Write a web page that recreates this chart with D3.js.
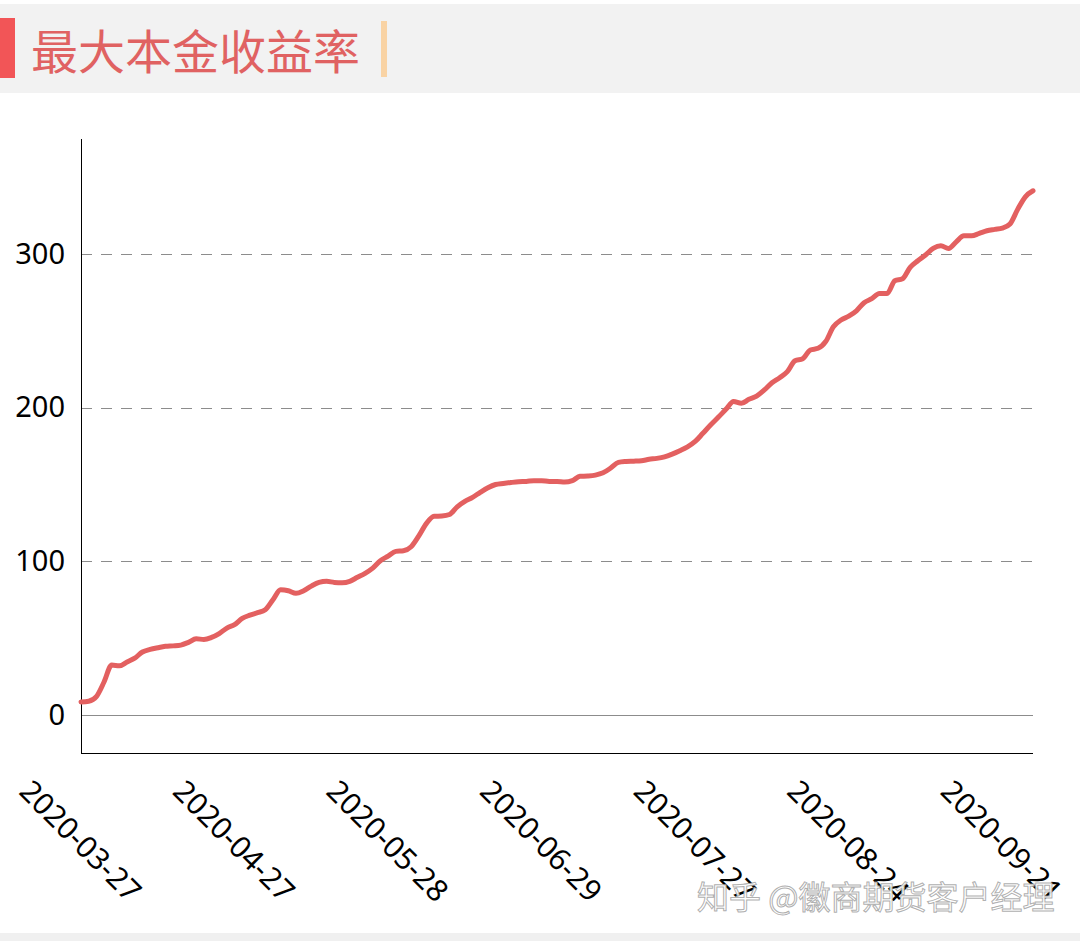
<!DOCTYPE html>
<html>
<head>
<meta charset="utf-8">
<script src="https://cdn.jsdelivr.net/npm/d3@7"></script>
<style>
  html, body { margin: 0; padding: 0; background: #fff; }
  svg { display: block; }
</style>
</head>
<body>
<svg id="chart" width="1080" height="941"></svg>
<script>
const titleText = "最大本金收益率";
const watermarkText = "知乎 @徽商期货客户经理";

const dates = [
  "2020-03-27","2020-03-30","2020-03-31",
  "2020-04-01","2020-04-02","2020-04-03","2020-04-07","2020-04-08","2020-04-09","2020-04-10",
  "2020-04-13","2020-04-14","2020-04-15","2020-04-16","2020-04-17","2020-04-20","2020-04-21",
  "2020-04-22","2020-04-23","2020-04-24","2020-04-27","2020-04-28","2020-04-29","2020-04-30",
  "2020-05-06","2020-05-07","2020-05-08","2020-05-11","2020-05-12","2020-05-13","2020-05-14",
  "2020-05-15","2020-05-18","2020-05-19","2020-05-20","2020-05-21","2020-05-22","2020-05-25",
  "2020-05-26","2020-05-27","2020-05-28","2020-05-29",
  "2020-06-01","2020-06-02","2020-06-03","2020-06-04","2020-06-05","2020-06-08","2020-06-09",
  "2020-06-10","2020-06-11","2020-06-12","2020-06-15","2020-06-16","2020-06-17","2020-06-18",
  "2020-06-19","2020-06-22","2020-06-23","2020-06-24","2020-06-29","2020-06-30",
  "2020-07-01","2020-07-02","2020-07-03","2020-07-06","2020-07-07","2020-07-08","2020-07-09",
  "2020-07-10","2020-07-13","2020-07-14","2020-07-15","2020-07-16","2020-07-17","2020-07-20",
  "2020-07-21","2020-07-22","2020-07-23","2020-07-24","2020-07-27","2020-07-28","2020-07-29",
  "2020-07-30","2020-07-31",
  "2020-08-03","2020-08-04","2020-08-05","2020-08-06","2020-08-07","2020-08-10","2020-08-11",
  "2020-08-12","2020-08-13","2020-08-14","2020-08-17","2020-08-18","2020-08-19","2020-08-20",
  "2020-08-21","2020-08-24","2020-08-25","2020-08-26","2020-08-27","2020-08-28","2020-08-31",
  "2020-09-01","2020-09-02","2020-09-03","2020-09-04","2020-09-07","2020-09-08","2020-09-09",
  "2020-09-10","2020-09-11","2020-09-14","2020-09-15","2020-09-16","2020-09-17","2020-09-18",
  "2020-09-21","2020-09-22","2020-09-23","2020-09-24","2020-09-25"
];

const returnRate = [
  8.5, 9, 12, 21.5, 32.5, 32, 34.5, 37, 41, 42.7,
  43.8, 44.7, 45, 45.5, 47.3, 49.6, 49.2, 50.5, 53, 56.6,
  58.8, 62.9, 65, 66.6, 68.5, 75, 81.5, 80.9, 79.2, 80.9,
  83.9, 86.3, 87, 86.3, 86.1, 87, 89.6, 92.2, 95.6, 100.4,
  103.4, 106.5, 106.9, 109.5, 116.5, 124.7, 129.3, 129.5, 130.5, 135.5,
  139, 141.6, 144.9, 147.9, 150, 150.7, 151.3, 151.8, 152, 152.5,
  152.5, 152, 152, 151.6, 152.5, 155.3, 155.5, 156.1, 157.6, 160.7,
  164.4, 165, 165.2, 165.5, 166.4, 167, 168, 169.8, 172, 174.5,
  178, 183.3, 188.7, 193.7, 198.9, 204, 202.8, 205.4, 207.5, 211.5,
  216.2, 219.5, 223.4, 230.5, 231.8, 237.5, 238.6, 243, 252.6, 257,
  259.5, 263, 268.3, 270.9, 274.3, 274.3, 282.6, 283.9, 291.3, 295.6,
  299.3, 303.6, 305.3, 303.6, 307.9, 311.8, 311.8, 313.4, 315.1, 316,
  316.8, 319.5, 329, 337.2, 341.1
];

const yTicks = [0, 100, 200, 300];
const yDomain = [-24.7, 374.8];
const xLabelEvery = 20;

const svg = d3.select("#chart");
const W = 1080, H = 941;
const plot = { left: 81, right: 1033, top: 139, bottom: 753 };
const labelFont = "'Noto Sans', 'Open Sans', sans-serif";

// header band
svg.append("rect").attr("x", 0).attr("y", 4).attr("width", W).attr("height", 89).attr("fill", "#f2f2f2");
svg.append("rect").attr("x", 0).attr("y", 18).attr("width", 15).attr("height", 60).attr("fill", "#f25557");
svg.append("text").attr("x", 31).attr("y", 69)
  .attr("font-family", "'Noto Sans CJK SC', sans-serif").attr("font-size", 47)
  .attr("fill", "#e06262").text(titleText);
svg.append("rect").attr("x", 381).attr("y", 21).attr("width", 6).attr("height", 56).attr("fill", "#f9d3a4");

// bottom band
svg.append("rect").attr("x", 0).attr("y", 933).attr("width", W).attr("height", 8).attr("fill", "#f0f0f0");

const x = d3.scalePoint().domain(dates).range([plot.left, plot.right]);
const y = d3.scaleLinear().domain(yDomain).range([plot.bottom, plot.top]);

// grid lines
const g = svg.append("g");
g.selectAll("line.grid").data(yTicks.filter(d => d !== 0)).join("line")
  .attr("class", "grid")
  .attr("x1", plot.left).attr("x2", plot.right)
  .attr("y1", d => Math.round(y(d)) + 0.5).attr("y2", d => Math.round(y(d)) + 0.5)
  .attr("stroke", "#8c8c8c").attr("stroke-width", 1).attr("stroke-dasharray", "11,9");
g.append("line")
  .attr("x1", plot.left).attr("x2", plot.right)
  .attr("y1", Math.round(y(0)) + 0.5).attr("y2", Math.round(y(0)) + 0.5)
  .attr("stroke", "#8c8c8c").attr("stroke-width", 1);

// y axis
const yAxis = d3.axisLeft(y).tickValues(yTicks).tickSize(0).tickPadding(16);
const yg = svg.append("g").attr("transform", `translate(${plot.left},0)`).call(yAxis);
yg.select(".domain").remove();
yg.selectAll("text").attr("font-family", labelFont).attr("font-size", 29).attr("fill", "#000");

svg.append("line").attr("x1", plot.left + 0.5).attr("x2", plot.left + 0.5)
  .attr("y1", plot.top).attr("y2", plot.bottom).attr("stroke", "#000").attr("stroke-width", 1);
svg.append("line").attr("x1", plot.left).attr("x2", plot.right)
  .attr("y1", plot.bottom + 0.5).attr("y2", plot.bottom + 0.5).attr("stroke", "#000").attr("stroke-width", 1);

// x axis labels
const xTickVals = dates.filter((d, i) => i % xLabelEvery === 0);
const xAxis = d3.axisBottom(x).tickValues(xTickVals).tickSize(0).tickPadding(0);
const xg = svg.append("g").attr("transform", `translate(0,${plot.bottom})`).call(xAxis);
xg.select(".domain").remove();
xg.selectAll(".tick text")
  .attr("font-family", labelFont).attr("font-size", 30).attr("fill", "#000")
  .attr("text-anchor", "middle").attr("dy", "0.35em")
  .attr("transform", "translate(-1,88) rotate(45)")
  .attr("y", 0);

// line
const line = d3.line()
  .x((d, i) => x(dates[i]))
  .y(d => y(d))
  .curve(d3.curveMonotoneX);
svg.append("path").datum(returnRate)
  .attr("d", line).attr("fill", "none")
  .attr("stroke", "#e36060").attr("stroke-width", 5)
  .attr("stroke-linejoin", "round").attr("stroke-linecap", "round");

// watermark
svg.append("text").attr("x", 697).attr("y", 909)
  .attr("font-family", "'Noto Sans CJK SC', sans-serif").attr("font-size", 32)
  .attr("fill", "#ffffff").attr("fill-opacity", 0.92)
  .attr("stroke", "#9a9a9a").attr("stroke-width", 1).attr("stroke-opacity", 0.8)
  .text(watermarkText);
</script>
</body>
</html>
